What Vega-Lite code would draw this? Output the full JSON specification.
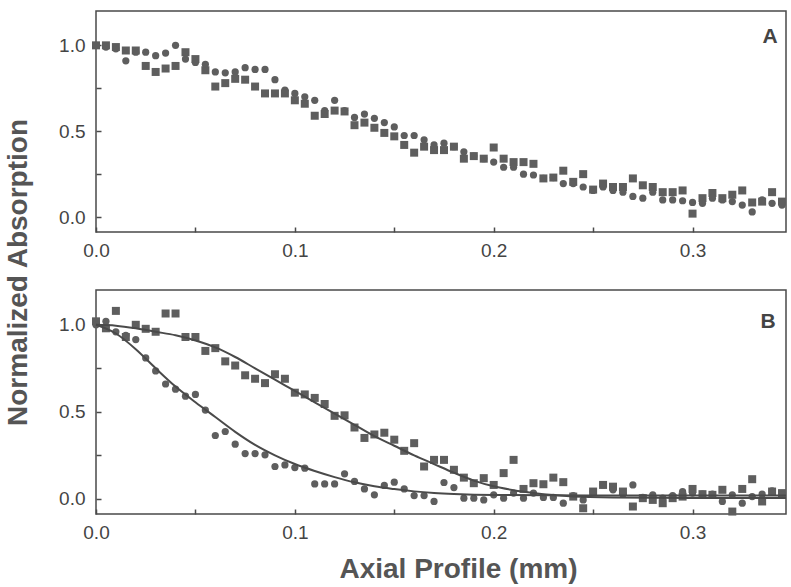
{
  "$schema": "https://vega.github.io/schema/vega-lite/v6.json",
  "background": "white",
  "padding": {"left": 3, "top": 10, "right": 0, "bottom": 0},
  "spacing": 58,
  "bounds": "flush",
  "config": {
    "view": {"stroke": "#4a4a4a", "strokeWidth": 1.5},
    "axis": {
      "grid": false, "domain": false,
      "tickColor": "#4a4a4a", "tickWidth": 1.5, "tickSize": -5,
      "labelFont": "Liberation Sans", "labelFontSize": 19, "labelColor": "#444444",
      "labelPadding": 16, "labelFlush": false,
      "titleFont": "Liberation Sans", "titleFontSize": 28, "titleFontWeight": "bold", "titleColor": "#555555"
    },
    "axisX": {"labelPadding": 14}
  },
  "datasets": {
    "A": [
      {"s":"sq","x":0.000,"y":1.0},{"s":"sq","x":0.005,"y":1.0},{"s":"sq","x":0.010,"y":0.99},{"s":"sq","x":0.015,"y":0.97},{"s":"sq","x":0.020,"y":0.97},
      {"s":"sq","x":0.025,"y":0.88},{"s":"sq","x":0.030,"y":0.845},{"s":"sq","x":0.035,"y":0.865},{"s":"sq","x":0.040,"y":0.88},{"s":"sq","x":0.045,"y":0.96},
      {"s":"sq","x":0.050,"y":0.92},{"s":"sq","x":0.055,"y":0.855},{"s":"sq","x":0.060,"y":0.76},{"s":"sq","x":0.065,"y":0.78},{"s":"sq","x":0.070,"y":0.805},
      {"s":"sq","x":0.075,"y":0.80},{"s":"sq","x":0.080,"y":0.76},{"s":"sq","x":0.085,"y":0.72},{"s":"sq","x":0.090,"y":0.72},{"s":"sq","x":0.095,"y":0.72},
      {"s":"sq","x":0.100,"y":0.68},{"s":"sq","x":0.105,"y":0.66},{"s":"sq","x":0.110,"y":0.59},{"s":"sq","x":0.115,"y":0.60},{"s":"sq","x":0.120,"y":0.62},
      {"s":"sq","x":0.125,"y":0.615},{"s":"sq","x":0.130,"y":0.535},{"s":"sq","x":0.135,"y":0.55},{"s":"sq","x":0.140,"y":0.52},{"s":"sq","x":0.145,"y":0.49},
      {"s":"sq","x":0.150,"y":0.47},{"s":"sq","x":0.155,"y":0.42},{"s":"sq","x":0.160,"y":0.375},{"s":"sq","x":0.165,"y":0.41},{"s":"sq","x":0.170,"y":0.39},
      {"s":"sq","x":0.175,"y":0.39},{"s":"sq","x":0.180,"y":0.41},{"s":"sq","x":0.185,"y":0.34},{"s":"sq","x":0.190,"y":0.355},{"s":"sq","x":0.195,"y":0.34},
      {"s":"sq","x":0.200,"y":0.405},{"s":"sq","x":0.205,"y":0.34},{"s":"sq","x":0.210,"y":0.32},{"s":"sq","x":0.215,"y":0.32},{"s":"sq","x":0.220,"y":0.31},
      {"s":"sq","x":0.225,"y":0.225},{"s":"sq","x":0.230,"y":0.23},{"s":"sq","x":0.235,"y":0.27},{"s":"sq","x":0.240,"y":0.205},{"s":"sq","x":0.245,"y":0.25},
      {"s":"sq","x":0.250,"y":0.16},{"s":"sq","x":0.255,"y":0.195},{"s":"sq","x":0.260,"y":0.175},{"s":"sq","x":0.265,"y":0.175},{"s":"sq","x":0.270,"y":0.225},
      {"s":"sq","x":0.275,"y":0.185},{"s":"sq","x":0.280,"y":0.175},{"s":"sq","x":0.285,"y":0.145},{"s":"sq","x":0.290,"y":0.145},{"s":"sq","x":0.295,"y":0.155},
      {"s":"sq","x":0.300,"y":0.02},{"s":"sq","x":0.305,"y":0.11},{"s":"sq","x":0.310,"y":0.14},{"s":"sq","x":0.315,"y":0.11},{"s":"sq","x":0.320,"y":0.13},
      {"s":"sq","x":0.325,"y":0.155},{"s":"sq","x":0.330,"y":0.085},{"s":"sq","x":0.335,"y":0.09},{"s":"sq","x":0.340,"y":0.145},{"s":"sq","x":0.345,"y":0.09},
      {"s":"ci","x":0.000,"y":1.0},{"s":"ci","x":0.005,"y":0.99},{"s":"ci","x":0.010,"y":0.98},{"s":"ci","x":0.015,"y":0.91},{"s":"ci","x":0.020,"y":0.96},
      {"s":"ci","x":0.025,"y":0.96},{"s":"ci","x":0.030,"y":0.94},{"s":"ci","x":0.035,"y":0.955},{"s":"ci","x":0.040,"y":1.0},{"s":"ci","x":0.045,"y":0.92},
      {"s":"ci","x":0.050,"y":0.90},{"s":"ci","x":0.055,"y":0.89},{"s":"ci","x":0.060,"y":0.845},{"s":"ci","x":0.065,"y":0.84},{"s":"ci","x":0.070,"y":0.845},
      {"s":"ci","x":0.075,"y":0.87},{"s":"ci","x":0.080,"y":0.86},{"s":"ci","x":0.085,"y":0.86},{"s":"ci","x":0.090,"y":0.80},{"s":"ci","x":0.095,"y":0.74},
      {"s":"ci","x":0.100,"y":0.72},{"s":"ci","x":0.105,"y":0.70},{"s":"ci","x":0.110,"y":0.68},{"s":"ci","x":0.115,"y":0.62},{"s":"ci","x":0.120,"y":0.68},
      {"s":"ci","x":0.125,"y":0.62},{"s":"ci","x":0.130,"y":0.58},{"s":"ci","x":0.135,"y":0.60},{"s":"ci","x":0.140,"y":0.575},{"s":"ci","x":0.145,"y":0.55},
      {"s":"ci","x":0.150,"y":0.525},{"s":"ci","x":0.155,"y":0.475},{"s":"ci","x":0.160,"y":0.475},{"s":"ci","x":0.165,"y":0.45},{"s":"ci","x":0.170,"y":0.42},
      {"s":"ci","x":0.175,"y":0.43},{"s":"ci","x":0.180,"y":0.41},{"s":"ci","x":0.185,"y":0.38},{"s":"ci","x":0.190,"y":0.355},{"s":"ci","x":0.195,"y":0.34},
      {"s":"ci","x":0.200,"y":0.32},{"s":"ci","x":0.205,"y":0.29},{"s":"ci","x":0.210,"y":0.29},{"s":"ci","x":0.215,"y":0.25},{"s":"ci","x":0.220,"y":0.245},
      {"s":"ci","x":0.225,"y":0.225},{"s":"ci","x":0.230,"y":0.23},{"s":"ci","x":0.235,"y":0.195},{"s":"ci","x":0.240,"y":0.195},{"s":"ci","x":0.245,"y":0.175},
      {"s":"ci","x":0.250,"y":0.155},{"s":"ci","x":0.255,"y":0.175},{"s":"ci","x":0.260,"y":0.155},{"s":"ci","x":0.265,"y":0.145},{"s":"ci","x":0.270,"y":0.12},
      {"s":"ci","x":0.275,"y":0.11},{"s":"ci","x":0.280,"y":0.145},{"s":"ci","x":0.285,"y":0.10},{"s":"ci","x":0.290,"y":0.10},{"s":"ci","x":0.295,"y":0.095},
      {"s":"ci","x":0.300,"y":0.085},{"s":"ci","x":0.305,"y":0.08},{"s":"ci","x":0.310,"y":0.11},{"s":"ci","x":0.315,"y":0.10},{"s":"ci","x":0.320,"y":0.09},
      {"s":"ci","x":0.325,"y":0.07},{"s":"ci","x":0.330,"y":0.03},{"s":"ci","x":0.335,"y":0.10},{"s":"ci","x":0.340,"y":0.08},{"s":"ci","x":0.345,"y":0.07}
    ],
    "B": [
      {"s":"sq","x":0.000,"y":1.02},{"s":"sq","x":0.005,"y":0.98},{"s":"sq","x":0.010,"y":1.08},{"s":"sq","x":0.015,"y":0.93},{"s":"sq","x":0.020,"y":1.0},
      {"s":"sq","x":0.025,"y":0.977},{"s":"sq","x":0.030,"y":0.96},{"s":"sq","x":0.035,"y":1.065},{"s":"sq","x":0.040,"y":1.065},{"s":"sq","x":0.045,"y":0.93},
      {"s":"sq","x":0.050,"y":0.93},{"s":"sq","x":0.055,"y":0.85},{"s":"sq","x":0.060,"y":0.866},{"s":"sq","x":0.065,"y":0.79},{"s":"sq","x":0.070,"y":0.766},
      {"s":"sq","x":0.075,"y":0.71},{"s":"sq","x":0.080,"y":0.69},{"s":"sq","x":0.085,"y":0.665},{"s":"sq","x":0.090,"y":0.716},{"s":"sq","x":0.095,"y":0.69},
      {"s":"sq","x":0.100,"y":0.61},{"s":"sq","x":0.105,"y":0.60},{"s":"sq","x":0.110,"y":0.58},{"s":"sq","x":0.115,"y":0.545},{"s":"sq","x":0.120,"y":0.477},
      {"s":"sq","x":0.125,"y":0.48},{"s":"sq","x":0.130,"y":0.41},{"s":"sq","x":0.135,"y":0.35},{"s":"sq","x":0.140,"y":0.37},{"s":"sq","x":0.145,"y":0.38},
      {"s":"sq","x":0.150,"y":0.34},{"s":"sq","x":0.155,"y":0.276},{"s":"sq","x":0.160,"y":0.32},{"s":"sq","x":0.165,"y":0.186},{"s":"sq","x":0.170,"y":0.224},
      {"s":"sq","x":0.175,"y":0.224},{"s":"sq","x":0.180,"y":0.167},{"s":"sq","x":0.185,"y":0.122},{"s":"sq","x":0.190,"y":0.09},{"s":"sq","x":0.195,"y":0.119},
      {"s":"sq","x":0.200,"y":0.08},{"s":"sq","x":0.205,"y":0.148},{"s":"sq","x":0.210,"y":0.224},{"s":"sq","x":0.215,"y":0.057},{"s":"sq","x":0.220,"y":0.09},
      {"s":"sq","x":0.225,"y":0.084},{"s":"sq","x":0.230,"y":0.122},{"s":"sq","x":0.235,"y":0.096},{"s":"sq","x":0.240,"y":0.013},{"s":"sq","x":0.245,"y":-0.054},
      {"s":"sq","x":0.250,"y":0.042},{"s":"sq","x":0.255,"y":0.08},{"s":"sq","x":0.260,"y":0.07},{"s":"sq","x":0.265,"y":0.042},{"s":"sq","x":0.270,"y":-0.044},
      {"s":"sq","x":0.275,"y":0.004},{"s":"sq","x":0.280,"y":-0.006},{"s":"sq","x":0.285,"y":-0.025},{"s":"sq","x":0.290,"y":0.004},{"s":"sq","x":0.295,"y":0.013},
      {"s":"sq","x":0.300,"y":0.057},{"s":"sq","x":0.305,"y":0.027},{"s":"sq","x":0.310,"y":0.023},{"s":"sq","x":0.315,"y":0.052},{"s":"sq","x":0.320,"y":-0.073},
      {"s":"sq","x":0.325,"y":0.057},{"s":"sq","x":0.330,"y":0.113},{"s":"sq","x":0.335,"y":-0.015},{"s":"sq","x":0.340,"y":0.042},{"s":"sq","x":0.345,"y":0.033},
      {"s":"ci","x":0.000,"y":1.0},{"s":"ci","x":0.005,"y":1.02},{"s":"ci","x":0.010,"y":0.96},{"s":"ci","x":0.015,"y":0.94},{"s":"ci","x":0.020,"y":0.915},
      {"s":"ci","x":0.025,"y":0.81},{"s":"ci","x":0.030,"y":0.735},{"s":"ci","x":0.035,"y":0.66},{"s":"ci","x":0.040,"y":0.63},{"s":"ci","x":0.045,"y":0.59},
      {"s":"ci","x":0.050,"y":0.60},{"s":"ci","x":0.055,"y":0.51},{"s":"ci","x":0.060,"y":0.364},{"s":"ci","x":0.065,"y":0.387},{"s":"ci","x":0.070,"y":0.314},
      {"s":"ci","x":0.075,"y":0.26},{"s":"ci","x":0.080,"y":0.26},{"s":"ci","x":0.085,"y":0.253},{"s":"ci","x":0.090,"y":0.186},{"s":"ci","x":0.095,"y":0.195},
      {"s":"ci","x":0.100,"y":0.18},{"s":"ci","x":0.105,"y":0.176},{"s":"ci","x":0.110,"y":0.086},{"s":"ci","x":0.115,"y":0.086},{"s":"ci","x":0.120,"y":0.086},
      {"s":"ci","x":0.125,"y":0.144},{"s":"ci","x":0.130,"y":0.10},{"s":"ci","x":0.135,"y":0.057},{"s":"ci","x":0.140,"y":0.023},{"s":"ci","x":0.145,"y":0.077},
      {"s":"ci","x":0.150,"y":0.096},{"s":"ci","x":0.155,"y":0.057},{"s":"ci","x":0.160,"y":0.019},{"s":"ci","x":0.165,"y":0.019},{"s":"ci","x":0.170,"y":-0.015},
      {"s":"ci","x":0.175,"y":0.094},{"s":"ci","x":0.180,"y":0.065},{"s":"ci","x":0.185,"y":0.004},{"s":"ci","x":0.190,"y":0.004},{"s":"ci","x":0.195,"y":-0.006},
      {"s":"ci","x":0.200,"y":0.023},{"s":"ci","x":0.205,"y":0.004},{"s":"ci","x":0.210,"y":0.033},{"s":"ci","x":0.215,"y":0.004},{"s":"ci","x":0.220,"y":0.033},
      {"s":"ci","x":0.225,"y":0.008},{"s":"ci","x":0.230,"y":0.008},{"s":"ci","x":0.235,"y":-0.025},{"s":"ci","x":0.240,"y":0.019},{"s":"ci","x":0.245,"y":-0.006},
      {"s":"ci","x":0.250,"y":0.042},{"s":"ci","x":0.255,"y":0.08},{"s":"ci","x":0.260,"y":0.052},{"s":"ci","x":0.265,"y":0.027},{"s":"ci","x":0.270,"y":0.08},
      {"s":"ci","x":0.275,"y":0.008},{"s":"ci","x":0.280,"y":0.023},{"s":"ci","x":0.285,"y":0.004},{"s":"ci","x":0.290,"y":0.019},{"s":"ci","x":0.295,"y":0.042},
      {"s":"ci","x":0.300,"y":0.033},{"s":"ci","x":0.305,"y":0.027},{"s":"ci","x":0.310,"y":0.027},{"s":"ci","x":0.315,"y":-0.015},{"s":"ci","x":0.320,"y":0.023},
      {"s":"ci","x":0.325,"y":-0.025},{"s":"ci","x":0.330,"y":0.013},{"s":"ci","x":0.335,"y":0.027},{"s":"ci","x":0.340,"y":0.046},{"s":"ci","x":0.345,"y":0.023}
    ],
    "fit": [
      {"c":"sq","x":0.00,"y":1.0},{"c":"sq","x":0.01,"y":0.995},{"c":"sq","x":0.02,"y":0.98},{"c":"sq","x":0.03,"y":0.96},{"c":"sq","x":0.04,"y":0.94},
      {"c":"sq","x":0.05,"y":0.91},{"c":"sq","x":0.06,"y":0.87},{"c":"sq","x":0.07,"y":0.815},{"c":"sq","x":0.08,"y":0.75},{"c":"sq","x":0.09,"y":0.685},
      {"c":"sq","x":0.10,"y":0.62},{"c":"sq","x":0.11,"y":0.555},{"c":"sq","x":0.12,"y":0.49},{"c":"sq","x":0.13,"y":0.425},{"c":"sq","x":0.14,"y":0.36},
      {"c":"sq","x":0.15,"y":0.305},{"c":"sq","x":0.16,"y":0.25},{"c":"sq","x":0.17,"y":0.2},{"c":"sq","x":0.18,"y":0.15},{"c":"sq","x":0.19,"y":0.105},
      {"c":"sq","x":0.20,"y":0.072},{"c":"sq","x":0.21,"y":0.05},{"c":"sq","x":0.22,"y":0.034},{"c":"sq","x":0.23,"y":0.022},{"c":"sq","x":0.24,"y":0.014},
      {"c":"sq","x":0.26,"y":0.008},{"c":"sq","x":0.30,"y":0.005},{"c":"sq","x":0.347,"y":0.005},
      {"c":"ci","x":0.00,"y":1.0},{"c":"ci","x":0.01,"y":0.95},{"c":"ci","x":0.02,"y":0.86},{"c":"ci","x":0.03,"y":0.75},{"c":"ci","x":0.04,"y":0.645},
      {"c":"ci","x":0.05,"y":0.555},{"c":"ci","x":0.06,"y":0.47},{"c":"ci","x":0.07,"y":0.385},{"c":"ci","x":0.08,"y":0.31},{"c":"ci","x":0.09,"y":0.25},
      {"c":"ci","x":0.10,"y":0.2},{"c":"ci","x":0.11,"y":0.16},{"c":"ci","x":0.12,"y":0.125},{"c":"ci","x":0.13,"y":0.095},{"c":"ci","x":0.14,"y":0.072},
      {"c":"ci","x":0.15,"y":0.056},{"c":"ci","x":0.16,"y":0.043},{"c":"ci","x":0.17,"y":0.034},{"c":"ci","x":0.18,"y":0.028},{"c":"ci","x":0.20,"y":0.022},
      {"c":"ci","x":0.25,"y":0.02},{"c":"ci","x":0.347,"y":0.02}
    ],
    "labA": [{"t":"A","x":0.339,"y":1.05}],
    "labB": [{"t":"B","x":0.338,"y":1.017}]
  },
  "vconcat": [
    {
      "width": 690, "height": 221,
      "encoding": {
        "x": {"field": "x", "type": "quantitative",
              "scale": {"domain": [0, 0.347], "nice": false, "zero": false},
              "axis": {"title": null, "values": [0, 0.05, 0.1, 0.15, 0.2, 0.25, 0.3],
                       "labelExpr": "round(datum.value*100)%10==0 ? format(datum.value,'.1f') : ''"}},
        "y": {"field": "y", "type": "quantitative",
              "scale": {"domain": [-0.087, 1.2], "nice": false, "zero": false},
              "axis": {"title": "Normalized Absorption", "values": [0, 0.25, 0.5, 0.75, 1.0],
                       "labelExpr": "round(datum.value*100)%50==0 ? format(datum.value,'.1f') : ''",
                       "titleY": 261, "titleX": -78, "titleBaseline": "middle", "titleAnchor": null}}
      },
      "layer": [
        {"data": {"name": "A"}, "transform": [{"filter": "datum.s=='sq'"}],
         "mark": {"type": "point", "shape": "square", "filled": true, "size": 64, "color": "#5e5e5e", "opacity": 1}},
        {"data": {"name": "A"}, "transform": [{"filter": "datum.s=='ci'"}],
         "mark": {"type": "point", "shape": "circle", "filled": true, "size": 52, "color": "#5e5e5e", "opacity": 1}},
        {"data": {"name": "labA"},
         "mark": {"type": "text", "font": "Liberation Sans", "fontSize": 21, "fontWeight": "bold", "color": "#444444"},
         "encoding": {"text": {"field": "t"}}}
      ]
    },
    {
      "width": 690, "height": 224,
      "encoding": {
        "x": {"field": "x", "type": "quantitative",
              "scale": {"domain": [0, 0.347], "nice": false, "zero": false},
              "axis": {"title": "Axial Profile (mm)", "values": [0, 0.05, 0.1, 0.15, 0.2, 0.25, 0.3],
                       "labelExpr": "round(datum.value*100)%10==0 ? format(datum.value,'.1f') : ''",
                       "titlePadding": 13, "titleX": 362}},
        "y": {"field": "y", "type": "quantitative",
              "scale": {"domain": [-0.087, 1.2], "nice": false, "zero": false},
              "axis": {"title": null, "values": [0, 0.25, 0.5, 0.75, 1.0],
                       "labelExpr": "round(datum.value*100)%50==0 ? format(datum.value,'.1f') : ''"}}
      },
      "layer": [
        {"data": {"name": "B"}, "transform": [{"filter": "datum.s=='sq'"}],
         "mark": {"type": "point", "shape": "square", "filled": true, "size": 64, "color": "#5e5e5e", "opacity": 1}},
        {"data": {"name": "B"}, "transform": [{"filter": "datum.s=='ci'"}],
         "mark": {"type": "point", "shape": "circle", "filled": true, "size": 52, "color": "#5e5e5e", "opacity": 1}},
        {"data": {"name": "fit"},
         "mark": {"type": "line", "interpolate": "monotone", "color": "#4a4a4a", "strokeWidth": 2},
         "encoding": {"detail": {"field": "c"}}},
        {"data": {"name": "labB"},
         "mark": {"type": "text", "font": "Liberation Sans", "fontSize": 21, "fontWeight": "bold", "color": "#444444"},
         "encoding": {"text": {"field": "t"}}}
      ]
    }
  ]
}
